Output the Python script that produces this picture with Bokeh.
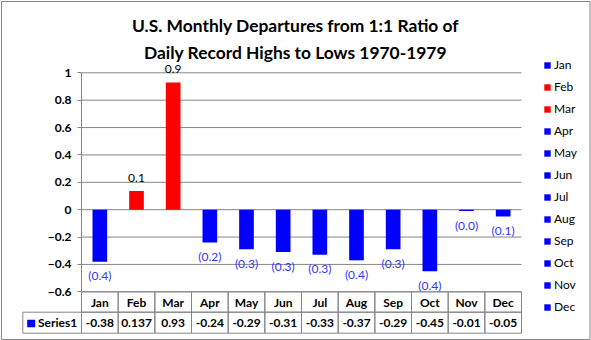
import numpy as np
from bokeh.plotting import figure
from bokeh.models import (ColumnDataSource, Range1d, LinearAxis, FixedTicker,
                          Legend, LegendItem)
from bokeh.core.properties import value
from bokeh.embed import file_html
from bokeh.resources import INLINE

# ---------------- data ----------------
title_lines = ["U.S. Monthly Departures from 1:1 Ratio of",
               "Daily Record Highs to Lows 1970-1979"]
months = ["Jan", "Feb", "Mar", "Apr", "May", "Jun",
          "Jul", "Aug", "Sep", "Oct", "Nov", "Dec"]
values = [-0.38, 0.137, 0.93, -0.24, -0.29, -0.31,
          -0.33, -0.37, -0.29, -0.45, -0.01, -0.05]
table_values = ["-0.38", "0.137", "0.93", "-0.24", "-0.29", "-0.31",
                "-0.33", "-0.37", "-0.29", "-0.45", "-0.01", "-0.05"]
bar_labels = ["(0.4)", "0.1", "0.9", "(0.2)", "(0.3)", "(0.3)",
              "(0.3)", "(0.4)", "(0.3)", "(0.4)", "(0.0)", "(0.1)"]
y_ticks = [-0.6, -0.4, -0.2, 0, 0.2, 0.4, 0.6, 0.8, 1]
series_name = "Series1"

# ---------------- styles / layout ----------------
FONT = "Lato"
GRAY = "#868686"
POS_COLOR = "#FF0000"
NEG_COLOR = "#0000FF"
NEG_LABEL_COLOR = "#3535FF"

W, H = 591, 340
PLOT_L, PLOT_R = 81, 521          # plot area left/right in px
Y_TOP_PX, Y_BOT_PX = 72.3, 291.3  # px of top tick / bottom tick
ROW1_BOT_PX, ROW2_BOT_PX = 311.7, 332.7
SERIES_L_PX = 22.3

n = len(months)
CW = (PLOT_R - PLOT_L) / n
PPU = (Y_BOT_PX - Y_TOP_PX) / (y_ticks[-1] - y_ticks[0])


def dx(px):
    return (px - PLOT_L) / CW


def dy(py):
    return y_ticks[-1] - (py - Y_TOP_PX) / PPU


p = figure(width=W, height=H, min_border=0, x_axis_type=None, y_axis_type=None,
           toolbar_location=None, output_backend="svg",
           x_range=Range1d(dx(0), dx(W)), y_range=Range1d(dy(H), dy(0)))
p.outline_line_color = None
p.background_fill_color = "white"
p.border_fill_color = "white"

# outer border
p.quad(left=dx(1), right=dx(589.5), top=dy(1), bottom=dy(339),
       fill_color=None, line_color=GRAY, line_width=1)

# gridlines
p.segment(x0=0, x1=n, y0=y_ticks, y1=y_ticks, line_color=GRAY, line_width=1)

# bars
xs = np.arange(n) + 0.5
colors = [POS_COLOR if v > 0 else NEG_COLOR for v in values]
lab_colors = ["black" if v > 0 else NEG_LABEL_COLOR for v in values]
lab_off = [-13 if v > 0 else 14 for v in values]
src = ColumnDataSource(dict(x=xs, v=values, color=colors, label=bar_labels,
                            lcolor=lab_colors, loff=lab_off))
bars = p.vbar(x="x", top="v", bottom=0, width=0.4, fill_color="color",
              line_color=None, source=src)

# data labels
p.text(x="x", y="v", text="label", y_offset="loff", text_color="lcolor",
       text_align="center", text_baseline="middle",
       text_font=value(FONT), text_font_size="12px", source=src)

# y axis
yaxis = LinearAxis(fixed_location=0, bounds=(y_ticks[0], y_ticks[-1]),
                   ticker=FixedTicker(ticks=y_ticks))
yaxis.axis_line_color = GRAY
yaxis.major_tick_line_color = GRAY
yaxis.major_tick_out = 4
yaxis.major_tick_in = 0
yaxis.minor_tick_line_color = None
yaxis.major_label_standoff = 6
yaxis.major_label_text_font = FONT
yaxis.major_label_text_font_style = "bold"
yaxis.major_label_text_font_size = "12px"
yaxis.major_label_text_color = "black"
p.add_layout(yaxis, "left")

# data table
r0t, r0b = dy(Y_BOT_PX), dy(ROW1_BOT_PX)
r1t, r1b = r0b, dy(ROW2_BOT_PX)
edges = np.arange(n)
p.quad(left=edges, right=edges + 1, top=r0t, bottom=r0b,
       fill_color=None, line_color=GRAY)
p.quad(left=edges, right=edges + 1, top=r1t, bottom=r1b,
       fill_color=None, line_color=GRAY)
p.quad(left=dx(SERIES_L_PX), right=0, top=r1t, bottom=r1b,
       fill_color=None, line_color=GRAY)
p.text(x=xs, y=(r0t + r0b) / 2, text=months, text_align="center",
       text_baseline="middle", text_font=value(FONT), text_font_style="bold",
       text_font_size="12px", text_color="black")
p.text(x=xs, y=(r1t + r1b) / 2, text=table_values, text_align="center",
       text_baseline="middle", text_font=value(FONT), text_font_style="bold",
       text_font_size="12px", text_color="black")
p.quad(left=dx(26.7), right=dx(34.7), top=dy(319.3), bottom=dy(326.7),
       fill_color=NEG_COLOR, line_color=None)
p.text(x=dx(37.5), y=(r1t + r1b) / 2, text=[series_name], text_align="left",
       text_baseline="middle", text_font=value(FONT), text_font_style="bold",
       text_font_size="12px", text_color="black")

# title
p.text(x=dx(295), y=[dy(25), dy(52)], text=title_lines, text_align="center",
       text_baseline="middle", text_font=value(FONT), text_font_style="bold",
       text_font_size="17.4px", text_color="black")

# legend
items = [LegendItem(label=m, renderers=[bars], index=i) for i, m in enumerate(months)]
legend = Legend(items=items, location=(543, 26), glyph_width=8, glyph_height=8,
                label_standoff=3, spacing=7, padding=0, margin=0,
                label_height=14, border_line_color=None,
                background_fill_alpha=0, label_text_font=FONT,
                label_text_font_size="12px", label_text_color="black")
p.add_layout(legend)

open("out.html", "w").write(file_html(p, INLINE))
